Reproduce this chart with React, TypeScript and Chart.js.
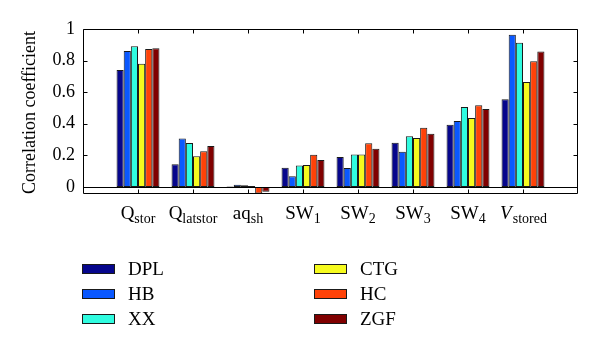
import React, { useEffect, useRef } from "react";
import { Chart, registerables } from "chart.js";

Chart.register(...registerables);

// ---- Data ----
const labelMain = ["Q", "Q", "aq", "SW", "SW", "SW", "SW", "V"];
const labelSub = ["stor", "latstor", "sh", "1", "2", "3", "4", "stored"];
const labelItalic = [false, false, false, false, false, false, false, true];

const seriesNames = ["DPL", "HB", "XX", "CTG", "HC", "ZGF"];
const seriesColors = ["#06068c", "#0a58ff", "#30fce0", "#f6fb1e", "#ff4208", "#800000"];

const DPL = [0.74, 0.143, 0.002, 0.122, 0.19, 0.28, 0.394, 0.555];
const HB = [0.86, 0.306, 0.014, 0.068, 0.12, 0.223, 0.418, 0.964];
const XX = [0.89, 0.278, 0.01, 0.135, 0.205, 0.32, 0.506, 0.913];
const CTG = [0.78, 0.194, 0.006, 0.139, 0.205, 0.31, 0.437, 0.665];
const HC = [0.873, 0.226, -0.042, 0.203, 0.277, 0.375, 0.517, 0.796];
const ZGF = [0.878, 0.259, -0.03, 0.171, 0.242, 0.337, 0.494, 0.857];

const yTicks = [0, 0.2, 0.4, 0.6, 0.8, 1];
const yTitle = "Correlation coefficient";

const FONT = '"Liberation Serif", "Times New Roman", serif';

const decorPlugin = {
  id: "decor",
  afterDatasetsDraw(chart: any) {
    const { ctx, chartArea: a, scales } = chart;
    const x = scales.x;
    const y = scales.y;
    ctx.save();
    ctx.strokeStyle = "#000";
    ctx.lineWidth = 1;
    const L = Math.round(a.left) + 0.5;
    const R = Math.round(a.right) - 0.5;
    const T = Math.round(a.top) + 0.5;
    const B = Math.round(a.bottom) - 0.5;
    ctx.beginPath();
    ctx.rect(L, T, R - L, B - T);
    // zero line
    const z = Math.round(y.getPixelForValue(0)) + 0.5;
    ctx.moveTo(L, z);
    ctx.lineTo(R, z);
    // x ticks
    for (let i = 1; i <= labelMain.length; i++) {
      const px = Math.round(x.getPixelForValue(i)) + 0.5;
      ctx.moveTo(px, B);
      ctx.lineTo(px, B - 4);
      ctx.moveTo(px, T);
      ctx.lineTo(px, T + 4);
    }
    // y ticks
    for (const v of yTicks) {
      const py = Math.round(y.getPixelForValue(v)) + 0.5;
      ctx.moveTo(L, py);
      ctx.lineTo(L + 4, py);
      ctx.moveTo(R, py);
      ctx.lineTo(R - 4, py);
    }
    ctx.stroke();
    ctx.restore();
  },
  afterDraw(chart: any) {
    const { ctx, chartArea: a, scales } = chart;
    const x = scales.x;
    ctx.save();
    ctx.fillStyle = "#000";
    ctx.textBaseline = "alphabetic";
    // x labels with subscripts
    for (let i = 0; i < labelMain.length; i++) {
      const cx = x.getPixelForValue(i + 1);
      const mainFont = (labelItalic[i] ? "italic " : "") + "19px " + FONT;
      const subFont = "14px " + FONT;
      ctx.font = mainFont;
      const w1 = ctx.measureText(labelMain[i]).width;
      ctx.font = subFont;
      const w2 = ctx.measureText(labelSub[i]).width;
      const start = cx - (w1 + w2) / 2;
      ctx.font = mainFont;
      ctx.textAlign = "left";
      ctx.fillText(labelMain[i], start, 219);
      ctx.font = subFont;
      ctx.fillText(labelSub[i], start + w1 + (labelItalic[i] ? 1 : 0), 223);
    }
    // y title
    ctx.save();
    ctx.translate(30, (a.top + a.bottom) / 2 + 1);
    ctx.rotate(-Math.PI / 2);
    ctx.font = "18px " + FONT;
    ctx.textAlign = "center";
    ctx.textBaseline = "middle";
    ctx.fillText(yTitle, 0, 0);
    ctx.restore();
    // legend
    const cols = [82, 314];
    const rows = [269, 294, 319];
    chart.data.datasets.forEach((ds: any, i: number) => {
      const col = Math.floor(i / 3);
      const row = i % 3;
      const px = cols[col];
      const py = rows[row];
      ctx.fillStyle = ds.backgroundColor;
      ctx.fillRect(px, py - 5, 33, 10);
      ctx.strokeStyle = "#1a1a1a";
      ctx.lineWidth = 1;
      ctx.strokeRect(px + 0.5, py - 5 + 0.5, 32, 9);
      ctx.fillStyle = "#000";
      ctx.font = "19px " + FONT;
      ctx.textAlign = "left";
      ctx.textBaseline = "middle";
      ctx.fillText(ds.label, px + 46, py + 1);
    });
    ctx.restore();
  },
};

export default function App() {
  const ref = useRef<HTMLCanvasElement | null>(null);
  useEffect(() => {
    if (!ref.current) return;
    const all = [DPL, HB, XX, CTG, HC, ZGF];
    const labels = ["", ...labelMain.map((m, i) => m + labelSub[i]), ""];
    const chart = new Chart(ref.current, {
      type: "bar",
      data: {
        labels,
        datasets: all.map((vals, i) => ({
          label: seriesNames[i],
          data: [null, ...vals, null],
          backgroundColor: seriesColors[i],
          borderColor: "#1a1a1a",
          borderWidth: 1,
          borderSkipped: false,
          barPercentage: 1,
          categoryPercentage: 0.78,
        })),
      },
      options: {
        responsive: false,
        animation: false,
        layout: { padding: { top: 29, right: 22, bottom: 153, left: 0 } },
        plugins: { legend: { display: false }, tooltip: { enabled: false } },
        scales: {
          x: {
            display: false,
            offset: false,
            grid: { display: false, offset: false },
          },
          y: {
            min: -0.045,
            max: 1,
            grid: { display: false, drawTicks: false },
            border: { display: false },
            afterFit(scale: any) {
              scale.width = 83;
            },
            afterBuildTicks(scale: any) {
              scale.ticks = yTicks.map((v) => ({ value: v }));
            },
            ticks: {
              padding: 8,
              color: "#000",
              font: { family: FONT, size: 18 },
              callback: (v: any) => String(v),
            },
          },
        },
      },
      plugins: [decorPlugin],
    } as any);
    return () => chart.destroy();
  }, []);
  return (
    <div style={{ position: "absolute", left: 0, top: 0, width: 600, height: 347, background: "#fff" }}>
      <canvas ref={ref} width={600} height={347} style={{ width: 600, height: 347 }} />
    </div>
  );
}
